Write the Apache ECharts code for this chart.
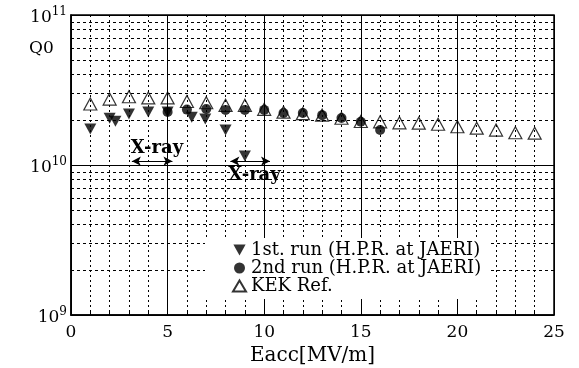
<!DOCTYPE html>
<html>
<head>
<meta charset="utf-8">
<script src="https://cdn.jsdelivr.net/npm/echarts@6/dist/echarts.min.js"></script>
<style>
    html, body { margin: 0; padding: 0; background: #fff; }
    #main { width: 579px; height: 368px; }
</style>
</head>
<body>
<div id="main"></div>
<script>
    // 1st run (H.P.R. at JAERI)
    var run1E = [1, 2, 2.3, 3, 4, 5, 6.25, 6.95, 8, 9];
    var run1Q = [1.74e10, 2.05e10, 1.96e10, 2.19e10, 2.26e10, 2.26e10, 2.08e10, 2.03e10, 1.71e10, 1.15e10];
    // 2nd run (H.P.R. at JAERI)
    var run2E = [5, 6, 7, 8, 9, 10, 11, 12, 13, 14, 15, 16];
    var run2Q = [2.26e10, 2.34e10, 2.36e10, 2.33e10, 2.33e10, 2.33e10, 2.22e10, 2.22e10, 2.15e10, 2.06e10, 1.94e10, 1.71e10];
    // KEK Ref.
    var kekE = [1, 2, 3, 4, 5, 6, 7, 8, 9, 10, 11, 12, 13, 14, 15, 16, 17, 18, 19, 20, 21, 22, 23, 24];
    var kekQ = [2.55e10, 2.75e10, 2.85e10, 2.8e10, 2.8e10, 2.65e10, 2.6e10, 2.5e10, 2.5e10, 2.35e10, 2.25e10, 2.2e10,
        2.15e10, 2.05e10, 1.95e10, 1.94e10, 1.91e10, 1.9e10, 1.87e10, 1.8e10, 1.76e10, 1.71e10, 1.64e10, 1.63e10];

    // 对数轴的次网格线 (2..9 x 10^n)
    var minorQ = [2e9, 3e9, 4e9, 5e9, 6e9, 7e9, 8e9, 9e9, 2e10, 3e10, 4e10, 5e10, 6e10, 7e10, 8e10, 9e10];

    // X-ray 区间 (箭头) 和文字位置
    var xray1 = [3.15, 5.25];
    var xray2 = [8.25, 10.3];
    var xrayQ = 1.06e10;
    var xrayLabels = [[4.45, 1.3e10], [9.5, 8.5e9]];

    var serif = '"DejaVu Serif", "Liberation Serif", serif';
    var downTri = 'path://M0,0L10,0L5,9Z';

    function pairs(xs, ys){
        var out = [];
        for (var i = 0; i < xs.length; i++) {
            out.push([xs[i], ys[i]]);
        }
        return out;
    }

    var option = {
        backgroundColor: '#fff',
        animation: false,
        grid: {
            left: 71, top: 15, right: 25, bottom: 53,
            outerBoundsMode: 'none',
            show: true, borderColor: '#000', borderWidth: 1.5,
            backgroundColor: 'transparent'
        },
        xAxis: {
            type: 'value',
            min: 0, max: 25, interval: 5,
            name: 'Eacc[MV/m]',
            nameLocation: 'middle',
            nameGap: 27,
            nameTextStyle: { fontFamily: serif, fontSize: 20, color: '#000' },
            axisLine: { lineStyle: { color: '#000', width: 1.5 } },
            axisTick: { inside: true, length: 5, lineStyle: { color: '#000' } },
            minorTick: { show: true, splitNumber: 5, length: 5, lineStyle: { color: '#000' } },
            axisLabel: { fontFamily: serif, fontSize: 17, color: '#000', margin: 9 },
            splitLine: { show: true, lineStyle: { color: '#000', width: 1 } },
            minorSplitLine: { show: true, lineStyle: { color: '#000', width: 1, type: [2, 3] } }
        },
        yAxis: {
            type: 'log',
            logBase: 10,
            min: 1e9, max: 1e11,
            axisLine: { lineStyle: { color: '#000', width: 1.5 } },
            axisTick: { show: false },
            axisLabel: {
                margin: 4,
                formatter: function(v){
                    var e = Math.round(Math.log(v) / Math.LN10);
                    return '{b|10}{s|' + e + '}';
                },
                rich: {
                    b: { fontFamily: serif, fontSize: 17, color: '#000', padding: [6, 0, 0, 0] },
                    s: { fontFamily: serif, fontSize: 12, color: '#000', padding: [0, 0, 6, 0] }
                }
            },
            splitLine: { show: true, lineStyle: { color: '#000', width: 1 } }
        },
        legend: {
            orient: 'vertical',
            left: 205, top: 238,
            z: 20,
            itemWidth: 13, itemHeight: 11, itemGap: 0,
            backgroundColor: '#fff',
            padding: [3, 8, 4, 27],
            textStyle: { fontFamily: serif, fontSize: 18, color: '#000', lineHeight: 16 },
            data: [
                { name: '1st. run (H.P.R. at JAERI)', icon: downTri },
                { name: '2nd run (H.P.R. at JAERI)' },
                { name: 'KEK Ref.' }
            ]
        },
        graphic: [
            {
                type: 'text', left: 29, top: 40,
                style: { text: 'Q0', font: '17px ' + serif, fill: '#000' }
            }
        ],
        series: [
            {
                // 网格线
                type: 'line', data: [], silent: true, z: 1,
                markLine: {
                    silent: true, symbol: 'none', animation: false, z: 1,
                    label: { show: false },
                    lineStyle: { color: '#000', width: 1, type: [3, 3] },
                    data: minorQ.map(function(q){ return { yAxis: q }; })
                }
            },
            {
                // X-ray 箭头
                type: 'line', data: [], silent: true,
                markLine: {
                    silent: true, symbol: ['arrow', 'arrow'], symbolSize: [7, 9], animation: false,
                    label: { show: false },
                    lineStyle: { color: '#000', width: 1, type: 'solid' },
                    data: [
                        [{ coord: [xray1[0], xrayQ] }, { coord: [xray1[1], xrayQ] }],
                        [{ coord: [xray2[0], xrayQ] }, { coord: [xray2[1], xrayQ] }]
                    ]
                },
                markPoint: {
                    silent: true, symbol: 'circle', symbolSize: 0, animation: false,
                    label: {
                        show: true, position: 'inside', formatter: 'X-ray',
                        fontFamily: serif, fontSize: 18, fontWeight: 'bold', color: '#000'
                    },
                    data: xrayLabels.map(function(p){ return { coord: p }; })
                }
            },
            {
                name: 'KEK Ref.',
                type: 'scatter',
                symbol: 'triangle', symbolSize: [13, 12],
                itemStyle: { color: 'rgba(255,255,255,0)', borderColor: '#000', borderWidth: 1.2 },
                data: pairs(kekE, kekQ)
            },
            {
                name: '2nd run (H.P.R. at JAERI)',
                type: 'scatter',
                symbol: 'circle', symbolSize: 10,
                itemStyle: { color: '#000' },
                data: pairs(run2E, run2Q)
            },
            {
                name: '1st. run (H.P.R. at JAERI)',
                type: 'scatter',
                symbol: downTri, symbolSize: [12, 11],
                itemStyle: { color: '#000' },
                data: pairs(run1E, run1Q)
            }
        ]
    };

    var myChart = echarts.init(document.getElementById('main'));
    myChart.setOption(option);
</script>
</body>
</html>
